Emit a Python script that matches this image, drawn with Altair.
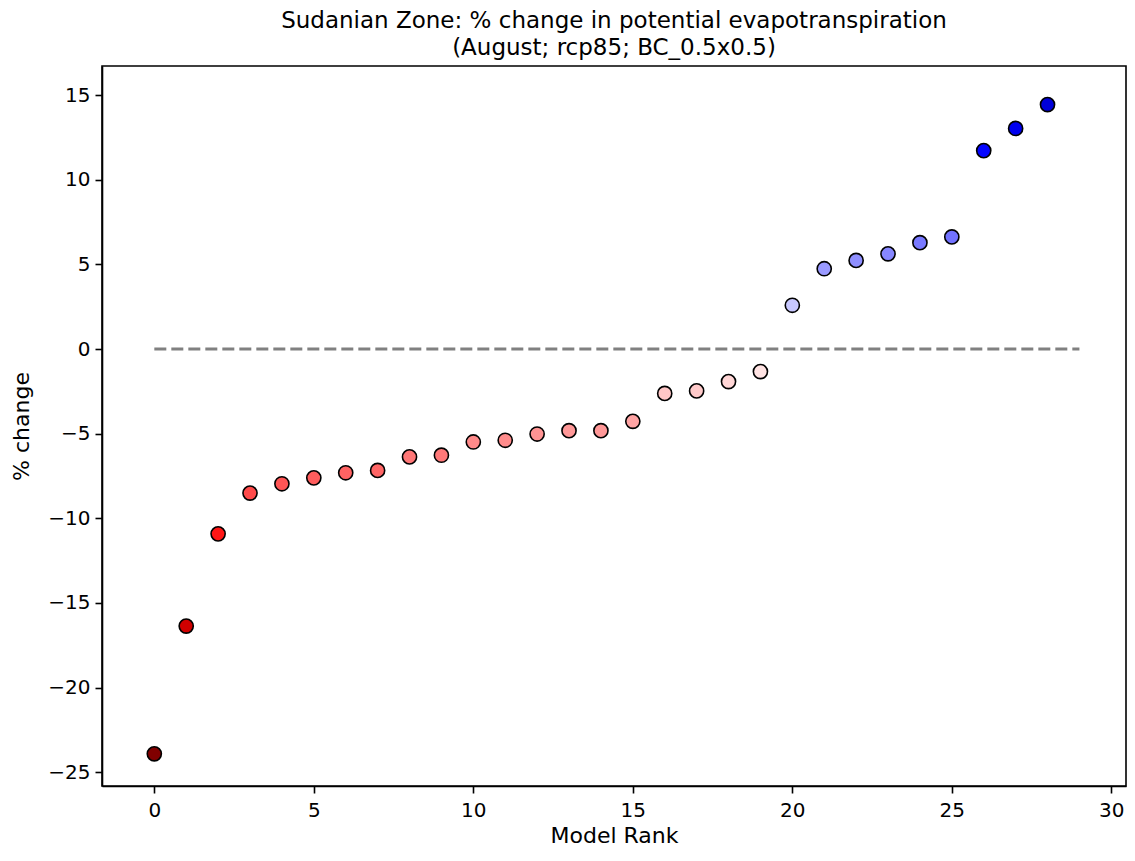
import altair as alt
import pandas as pd

rank = list(range(29))
pct_change = [-23.92, -16.37, -10.92, -8.51, -7.96, -7.61, -7.31, -7.17, -6.37, -6.27,
              -5.49, -5.39, -5.02, -4.82, -4.82, -4.27, -2.62, -2.47, -1.92, -1.33,
              2.59, 4.75, 5.24, 5.63, 6.29, 6.63, 11.73, 13.04, 14.45]

x_ticks = [0, 5, 10, 15, 20, 25, 30]
y_ticks = [-25, -20, -15, -10, -5, 0, 5, 10, 15]

vmax = max(abs(v) for v in pct_change)
color_domain = [-vmax, -vmax / 2, 0, vmax / 2, vmax]
color_range = ["#800000", "#ff0000", "#ffffff", "#0000ff", "#00004d"]

df = pd.DataFrame({"rank": rank, "pct": pct_change})
zero_df = pd.DataFrame({"x": [0], "x2": [len(rank)], "y": [0]})

FONT = "DejaVu Sans"

x_scale = alt.Scale(domain=[-1.64, 30.46], nice=False, zero=False)
y_scale = alt.Scale(domain=[-25.82, 16.73], nice=False, zero=False)

axis_common = dict(
    grid=False, domainColor="black", domainWidth=1.6, tickColor="black",
    tickWidth=1.6, tickSize=7, labelFont=FONT, labelFontSize=20,
    labelColor="black", titleFont=FONT, titleFontSize=22, titleColor="black",
    titleFontWeight="normal",
)

zero_line = alt.Chart(zero_df).mark_rule(
    color="#808080", strokeWidth=3, strokeDash=[12, 5]
).encode(
    x=alt.X("x:Q", scale=x_scale),
    x2="x2:Q",
    y=alt.Y("y:Q", scale=y_scale),
)

points = alt.Chart(df).mark_point(
    filled=True, size=200, stroke="black", strokeWidth=1.6, opacity=1, shape="circle"
).encode(
    x=alt.X("rank:Q", scale=x_scale, title="Model Rank",
            axis=alt.Axis(values=x_ticks, labelPadding=7, titlePadding=5, **axis_common)),
    y=alt.Y("pct:Q", scale=y_scale, title="% change",
            axis=alt.Axis(values=y_ticks, labelPadding=5, titlePadding=14, **axis_common)),
    fill=alt.Fill("pct:Q", scale=alt.Scale(domain=color_domain, range=color_range,
                                           interpolate="rgb"), legend=None),
)

chart = alt.layer(zero_line, points).properties(
    width=1024,
    height=720,
    background="white",
    title=alt.TitleParams(
        text=["Sudanian Zone: % change in potential evapotranspiration",
              "(August; rcp85; BC_0.5x0.5)"],
        font=FONT, fontSize=23, fontWeight="normal", color="black",
        anchor="middle", lineHeight=27, offset=6,
    ),
    autosize=alt.AutoSizeParams(type="none"),
    padding={"left": 94, "top": 58, "right": 1, "bottom": 67},
).configure_view(
    stroke="black", strokeWidth=1.6
)

chart.save("out.html", embed_options={"renderer": "svg", "actions": False})
